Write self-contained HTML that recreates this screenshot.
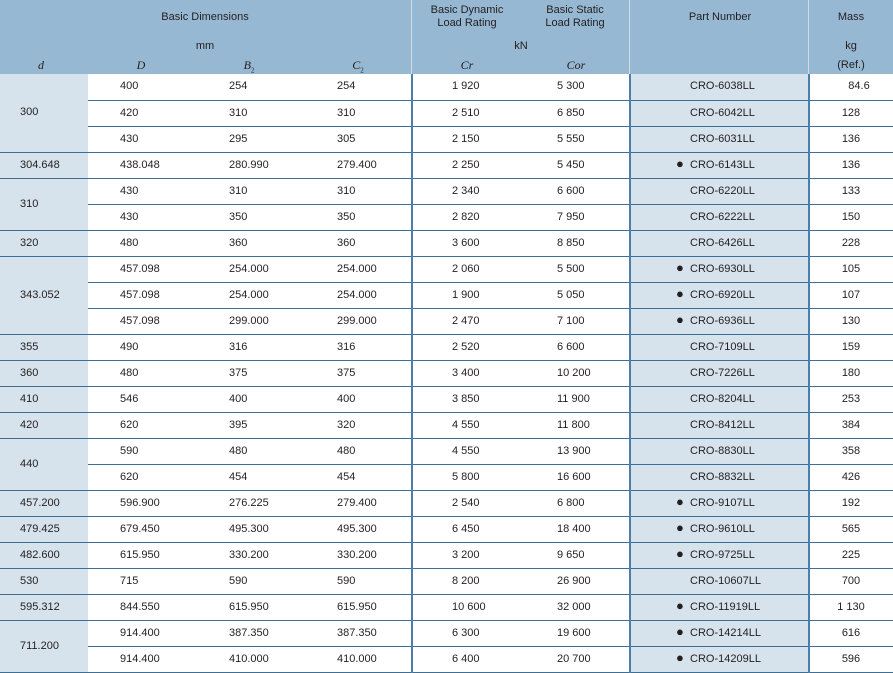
<!DOCTYPE html>
<html><head><meta charset="utf-8"><style>
body{margin:0;width:893px;height:673px;background:#fff;font-family:"Liberation Sans",sans-serif;font-size:11px;color:#231f20;overflow:hidden;position:relative}
.hd{position:absolute;left:0;top:0;width:893px;height:74px;background:#97b8d2}
.h{position:absolute;white-space:nowrap;line-height:13px}
.c{transform:translateX(-50%);text-align:center}
.i{font-family:"Liberation Serif",serif;font-style:italic;font-size:12px}
.vl{position:absolute;top:0;height:673px;width:2px;background:#4a7fa8}
table{position:absolute;left:0;top:74px;border-collapse:collapse;table-layout:fixed}
tr{height:26px}
td{height:25px;padding:0;line-height:13px;border-bottom:1px solid #3d6f96;white-space:nowrap;vertical-align:middle}
td.d{background:#d6e2ec;padding-left:20px}
td.p{background:#d6e2ec;padding-left:60px}
td.m{text-align:center}
.b{margin-left:-14px;font-size:13px;line-height:10px;display:inline-block;width:14px;vertical-align:0}
sub{font-size:7px;font-style:normal}
</style></head><body>
<div class="hd"></div>
<div class="h c" style="left:205px;top:11px">Basic Dimensions</div>
<div class="h c" style="left:205px;top:40px">mm</div>
<div class="h c i" style="left:41px;top:59px">d</div>
<div class="h c i" style="left:141px;top:59px">D</div>
<div class="h c i" style="left:249px;top:59px">B<sub>2</sub></div>
<div class="h c i" style="left:358px;top:59px">C<sub>2</sub></div>
<div class="h c" style="left:467px;top:4px">Basic Dynamic<br>Load Rating</div>
<div class="h c" style="left:575px;top:4px">Basic Static<br>Load Rating</div>
<div class="h c" style="left:521px;top:40px">kN</div>
<div class="h c i" style="left:467px;top:59px">Cr</div>
<div class="h c i" style="left:576px;top:59px">Cor</div>
<div class="h c" style="left:720px;top:11px">Part Number</div>
<div class="h c" style="left:851px;top:11px">Mass</div>
<div class="h c" style="left:851px;top:40px">kg</div>
<div class="h c" style="left:851px;top:59px">(Ref.)</div>
<table>
<colgroup><col style="width:88px"><col style="width:108px"><col style="width:108px"><col style="width:108px"><col style="width:108px"><col style="width:110px"><col style="width:179px"><col style="width:84px"></colgroup>
<tbody>
<tr><td class="d" rowspan="3">300</td><td style="padding-left:32px">400</td><td style="padding-left:33px">254</td><td style="padding-left:33px">254</td><td style="padding-left:40px">1 920</td><td style="padding-left:37px">5 300</td><td class="p">CRO-6038LL</td><td class="m" style="padding-left:16px">84.6</td></tr>
<tr><td style="padding-left:32px">420</td><td style="padding-left:33px">310</td><td style="padding-left:33px">310</td><td style="padding-left:40px">2 510</td><td style="padding-left:37px">6 850</td><td class="p">CRO-6042LL</td><td class="m">128</td></tr>
<tr><td style="padding-left:32px">430</td><td style="padding-left:33px">295</td><td style="padding-left:33px">305</td><td style="padding-left:40px">2 150</td><td style="padding-left:37px">5 550</td><td class="p">CRO-6031LL</td><td class="m">136</td></tr>
<tr><td class="d">304.648</td><td style="padding-left:32px">438.048</td><td style="padding-left:33px">280.990</td><td style="padding-left:33px">279.400</td><td style="padding-left:40px">2 250</td><td style="padding-left:37px">5 450</td><td class="p"><span class="b">●</span>CRO-6143LL</td><td class="m">136</td></tr>
<tr><td class="d" rowspan="2">310</td><td style="padding-left:32px">430</td><td style="padding-left:33px">310</td><td style="padding-left:33px">310</td><td style="padding-left:40px">2 340</td><td style="padding-left:37px">6 600</td><td class="p">CRO-6220LL</td><td class="m">133</td></tr>
<tr><td style="padding-left:32px">430</td><td style="padding-left:33px">350</td><td style="padding-left:33px">350</td><td style="padding-left:40px">2 820</td><td style="padding-left:37px">7 950</td><td class="p">CRO-6222LL</td><td class="m">150</td></tr>
<tr><td class="d">320</td><td style="padding-left:32px">480</td><td style="padding-left:33px">360</td><td style="padding-left:33px">360</td><td style="padding-left:40px">3 600</td><td style="padding-left:37px">8 850</td><td class="p">CRO-6426LL</td><td class="m">228</td></tr>
<tr><td class="d" rowspan="3">343.052</td><td style="padding-left:32px">457.098</td><td style="padding-left:33px">254.000</td><td style="padding-left:33px">254.000</td><td style="padding-left:40px">2 060</td><td style="padding-left:37px">5 500</td><td class="p"><span class="b">●</span>CRO-6930LL</td><td class="m">105</td></tr>
<tr><td style="padding-left:32px">457.098</td><td style="padding-left:33px">254.000</td><td style="padding-left:33px">254.000</td><td style="padding-left:40px">1 900</td><td style="padding-left:37px">5 050</td><td class="p"><span class="b">●</span>CRO-6920LL</td><td class="m">107</td></tr>
<tr><td style="padding-left:32px">457.098</td><td style="padding-left:33px">299.000</td><td style="padding-left:33px">299.000</td><td style="padding-left:40px">2 470</td><td style="padding-left:37px">7 100</td><td class="p"><span class="b">●</span>CRO-6936LL</td><td class="m">130</td></tr>
<tr><td class="d">355</td><td style="padding-left:32px">490</td><td style="padding-left:33px">316</td><td style="padding-left:33px">316</td><td style="padding-left:40px">2 520</td><td style="padding-left:37px">6 600</td><td class="p">CRO-7109LL</td><td class="m">159</td></tr>
<tr><td class="d">360</td><td style="padding-left:32px">480</td><td style="padding-left:33px">375</td><td style="padding-left:33px">375</td><td style="padding-left:40px">3 400</td><td style="padding-left:37px">10 200</td><td class="p">CRO-7226LL</td><td class="m">180</td></tr>
<tr><td class="d">410</td><td style="padding-left:32px">546</td><td style="padding-left:33px">400</td><td style="padding-left:33px">400</td><td style="padding-left:40px">3 850</td><td style="padding-left:37px">11 900</td><td class="p">CRO-8204LL</td><td class="m">253</td></tr>
<tr><td class="d">420</td><td style="padding-left:32px">620</td><td style="padding-left:33px">395</td><td style="padding-left:33px">320</td><td style="padding-left:40px">4 550</td><td style="padding-left:37px">11 800</td><td class="p">CRO-8412LL</td><td class="m">384</td></tr>
<tr><td class="d" rowspan="2">440</td><td style="padding-left:32px">590</td><td style="padding-left:33px">480</td><td style="padding-left:33px">480</td><td style="padding-left:40px">4 550</td><td style="padding-left:37px">13 900</td><td class="p">CRO-8830LL</td><td class="m">358</td></tr>
<tr><td style="padding-left:32px">620</td><td style="padding-left:33px">454</td><td style="padding-left:33px">454</td><td style="padding-left:40px">5 800</td><td style="padding-left:37px">16 600</td><td class="p">CRO-8832LL</td><td class="m">426</td></tr>
<tr><td class="d">457.200</td><td style="padding-left:32px">596.900</td><td style="padding-left:33px">276.225</td><td style="padding-left:33px">279.400</td><td style="padding-left:40px">2 540</td><td style="padding-left:37px">6 800</td><td class="p"><span class="b">●</span>CRO-9107LL</td><td class="m">192</td></tr>
<tr><td class="d">479.425</td><td style="padding-left:32px">679.450</td><td style="padding-left:33px">495.300</td><td style="padding-left:33px">495.300</td><td style="padding-left:40px">6 450</td><td style="padding-left:37px">18 400</td><td class="p"><span class="b">●</span>CRO-9610LL</td><td class="m">565</td></tr>
<tr><td class="d">482.600</td><td style="padding-left:32px">615.950</td><td style="padding-left:33px">330.200</td><td style="padding-left:33px">330.200</td><td style="padding-left:40px">3 200</td><td style="padding-left:37px">9 650</td><td class="p"><span class="b">●</span>CRO-9725LL</td><td class="m">225</td></tr>
<tr><td class="d">530</td><td style="padding-left:32px">715</td><td style="padding-left:33px">590</td><td style="padding-left:33px">590</td><td style="padding-left:40px">8 200</td><td style="padding-left:37px">26 900</td><td class="p">CRO-10607LL</td><td class="m">700</td></tr>
<tr><td class="d">595.312</td><td style="padding-left:32px">844.550</td><td style="padding-left:33px">615.950</td><td style="padding-left:33px">615.950</td><td style="padding-left:40px">10 600</td><td style="padding-left:37px">32 000</td><td class="p"><span class="b">●</span>CRO-11919LL</td><td class="m">1 130</td></tr>
<tr><td class="d" rowspan="2">711.200</td><td style="padding-left:32px">914.400</td><td style="padding-left:33px">387.350</td><td style="padding-left:33px">387.350</td><td style="padding-left:40px">6 300</td><td style="padding-left:37px">19 600</td><td class="p"><span class="b">●</span>CRO-14214LL</td><td class="m">616</td></tr>
<tr><td style="padding-left:32px">914.400</td><td style="padding-left:33px">410.000</td><td style="padding-left:33px">410.000</td><td style="padding-left:40px">6 400</td><td style="padding-left:37px">20 700</td><td class="p"><span class="b">●</span>CRO-14209LL</td><td class="m">596</td></tr>
</tbody></table>
<div class="vl" style="left:411px;background:#cfdde9;height:74px;width:1px"></div>
<div class="vl" style="left:411px;top:74px;height:599px"></div>
<div class="vl" style="left:629px;top:74px;height:599px"></div>
<div class="vl" style="left:629px;background:#cfdde9;height:74px;width:1px"></div>
<div class="vl" style="left:808px;top:74px;height:599px"></div>
<div class="vl" style="left:808px;background:#cfdde9;height:74px;width:1px"></div>
</body></html>
